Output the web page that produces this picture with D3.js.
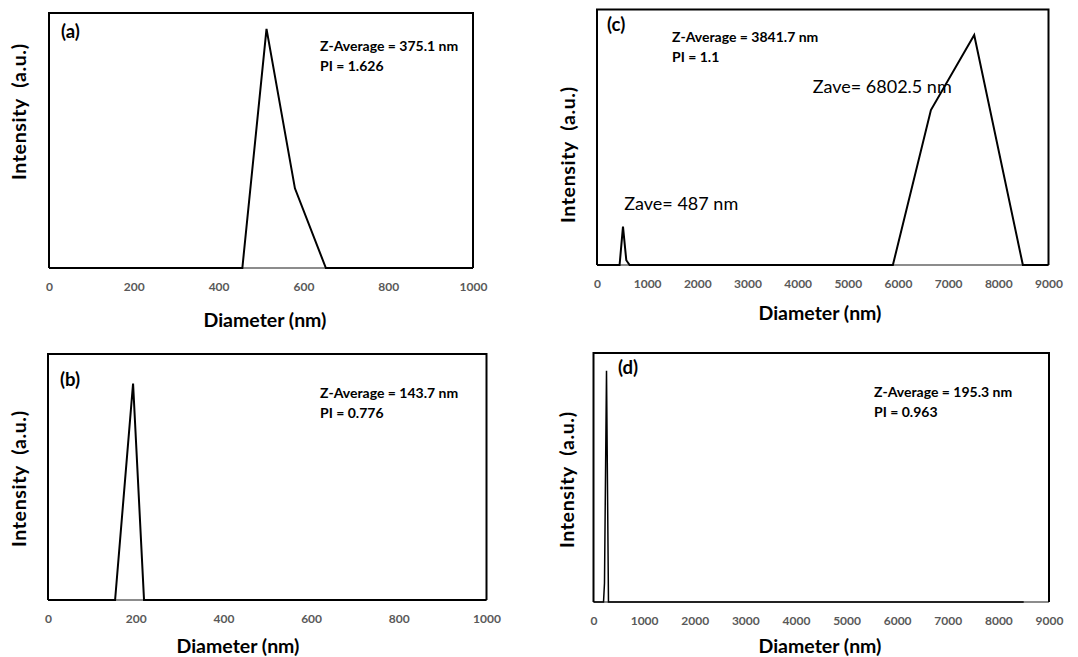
<!DOCTYPE html>
<html>
<head>
<meta charset="utf-8">
<script src="https://cdn.jsdelivr.net/npm/d3@7"></script>
<style>
  body { margin: 0; background: #fff; }
  svg { display: block; font-family: Lato, "Open Sans", sans-serif; }
</style>
</head>
<body>
<svg width="1078" height="657"></svg>
<script>
// size distributions
let diamA = [0, 456, 513, 580, 653, 1000];
let intA = [0, 0, 30, 10, 0, 0];

let diamB = [0, 153, 194, 219, 1000];
let intB = [0, 0, 22, 0, 0];

let diamC = [0, 450, 518, 584, 650, 5898, 6656, 7519, 8489, 9000];
let intC = [0, 0, 2.4, 0.3, 0, 0, 9.7, 14.4, 0, 0];

let diamD = [0, 198, 217, 257, 296, 8500];
let intD = [0, 0, 2.1, 26, 0, 0];

let ticksSmall = [0, 200, 400, 600, 800, 1000];
let ticksLarge = [0, 1000, 2000, 3000, 4000, 5000, 6000, 7000, 8000, 9000];

let labels = ["(a)", "(b)", "(c)", "(d)"];
let zAverage = ["375.1", "143.7", "3841.7", "195.3"];
let pdi = ["1.626", "0.776", "1.1", "0.963"];

let svg = d3.select("svg");

let panels = [
    { x: diamA, y: intA, ticks: ticksSmall, xMax: 1000, yMax: 32, label: labels[0], z: zAverage[0], pi: pdi[0],
      box: [49, 13, 473, 268], lab: [61, 38], zPos: [320, 51], yTitle: [26, 112], xTitle: [265, 327], lw: 2 },
    { x: diamB, y: intB, ticks: ticksSmall, xMax: 1000, yMax: 25, label: labels[1], z: zAverage[1], pi: pdi[1],
      box: [48, 354, 486.5, 600], lab: [60, 386], zPos: [320, 398], yTitle: [26, 479], xTitle: [238, 653], lw: 2 },
    { x: diamC, y: intC, ticks: ticksLarge, xMax: 9000, yMax: 16, label: labels[2], z: zAverage[2], pi: pdi[2],
      box: [597, 9.5, 1048.5, 265], lab: [607, 31], zPos: [672, 42], yTitle: [575, 155], xTitle: [820, 320], lw: 2,
      notes: [{ text: "Zave= 6802.5 nm", x: 812.7, y: 93 }, { text: "Zave= 487 nm", x: 624.3, y: 210 }] },
    { x: diamD, y: intD, ticks: ticksLarge, xMax: 9000, yMax: 28, label: labels[3], z: zAverage[3], pi: pdi[3],
      box: [593.5, 353, 1049, 602], lab: [618, 374], zPos: [874, 397], yTitle: [574, 480], xTitle: [820, 653], lw: 1.5 }
];

panels.forEach(function (p) {
    let [x0, y0, x1, y1] = p.box;
    let xScale = d3.scaleLinear().domain([0, p.xMax]).range([x0, x1]);
    let yScale = d3.scaleLinear().domain([0, p.yMax]).range([y1, y0]);
    let g = svg.append("g");

    // bottom axis line is grey, the rest of the frame black
    g.append("line")
        .attr("x1", x0).attr("x2", x1).attr("y1", y1).attr("y2", y1)
        .attr("stroke", "#8c8c8c").attr("stroke-width", 2);

    let line = d3.line()
        .x(function (d, i) { return xScale(p.x[i]); })
        .y(function (d) { return yScale(d); });

    g.append("path")
        .datum(p.y)
        .attr("d", line)
        .attr("fill", "none")
        .attr("stroke", "#000")
        .attr("stroke-width", p.lw)
        .attr("stroke-linejoin", "miter");

    g.append("path")
        .attr("d", "M" + x0 + "," + y1 + "V" + y0 + "H" + x1 + "V" + y1)
        .attr("fill", "none")
        .attr("stroke", "#000")
        .attr("stroke-width", 2);

    let axis = g.append("g")
        .attr("transform", "translate(0," + y1 + ")")
        .call(d3.axisBottom(xScale).tickValues(p.ticks).tickSize(0).tickFormat(d3.format("d")));
    axis.select(".domain").remove();
    axis.selectAll("text")
        .attr("y", 23).attr("dy", 0)
        .attr("fill", "#595959")
        .style("font-family", "Lato, sans-serif")
        .style("font-size", "12px")
        .style("font-weight", "bold");

    g.append("text")
        .attr("x", p.lab[0]).attr("y", p.lab[1])
        .style("font-size", "18.5px").style("font-weight", "bold")
        .text(p.label);

    g.append("text")
        .attr("x", p.zPos[0]).attr("y", p.zPos[1])
        .style("font-size", "14px").style("font-weight", "bold")
        .text("Z-Average = " + p.z + " nm");
    g.append("text")
        .attr("x", p.zPos[0]).attr("y", p.zPos[1] + 20)
        .style("font-size", "14px").style("font-weight", "bold")
        .text("PI = " + p.pi);

    g.append("text")
        .attr("x", p.xTitle[0]).attr("y", p.xTitle[1])
        .attr("text-anchor", "middle")
        .style("font-size", "19.5px").style("font-weight", "bold")
        .text("Diameter (nm)");

    g.append("text")
        .attr("transform", "translate(" + p.yTitle[0] + "," + p.yTitle[1] + ") rotate(-90)")
        .attr("text-anchor", "middle")
        .attr("textLength", 136)
        .attr("lengthAdjust", "spacing")
        .style("font-size", "19.5px").style("font-weight", "bold")
        .style("white-space", "pre")
        .text("Intensity  (a.u.)");

    (p.notes || []).forEach(function (n) {
        g.append("text")
            .attr("x", n.x).attr("y", n.y)
            .style("font-size", "18px")
            .text(n.text);
    });
});
</script>
</body>
</html>
